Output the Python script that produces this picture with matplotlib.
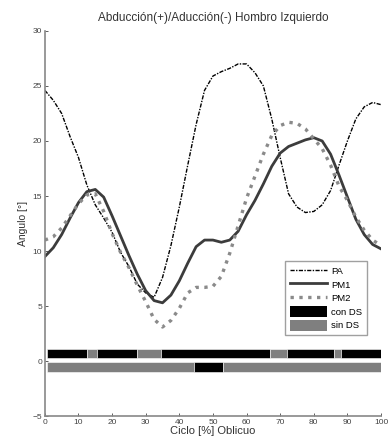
import matplotlib.pyplot as plt
from matplotlib.patches import Patch
from matplotlib.lines import Line2D

plt.rcParams['font.family'] = ['Liberation Sans', 'DejaVu Sans']

ciclo = [i * 2.5 for i in range(41)]

pa = [24.6, 23.7, 22.5, 20.4, 18.5, 16.0, 14.2, 13.0, 11.7, 9.9,
      8.6, 7.0, 6.2, 5.8, 7.6, 10.5, 14.0, 17.8, 21.5, 24.6,
      25.9, 26.3, 26.6, 27.0, 27.0, 26.2, 25.0, 22.0, 18.5, 15.2,
      14.0, 13.5, 13.6, 14.2, 15.5, 17.8, 20.0, 22.0, 23.1, 23.5, 23.3]

pm1 = [9.5, 10.3, 11.5, 13.0, 14.4, 15.4, 15.6, 14.9, 13.2, 11.4,
       9.6, 7.9, 6.4, 5.5, 5.3, 6.0, 7.3, 8.9, 10.4, 11.0,
       11.0, 10.8, 11.0, 11.8, 13.3, 14.6, 16.1, 17.7, 18.9, 19.5,
       19.8, 20.1, 20.3, 20.0, 18.8, 16.9, 14.9, 12.9, 11.5, 10.6, 10.2]

pm2 = [11.0, 11.3, 12.1, 13.2, 14.3, 15.1, 15.2, 13.6, 11.6, 9.9,
       8.5, 6.9, 5.4, 3.8, 3.1, 3.7, 4.8, 6.2, 6.7, 6.7,
       6.8, 7.7, 9.8, 12.3, 14.8, 16.8, 18.8, 20.5, 21.4, 21.7,
       21.6, 21.1, 20.2, 19.3, 17.8, 15.9, 14.6, 13.1, 11.9, 11.0, 10.5]

# franjas de doble soporte (1 = con DS, 0 = sin DS)
ds_bordes_1 = [0.5, 12.5, 15.5, 27.5, 34.5, 67, 72, 86, 88, 100]
ds_estado_1 = [1, 0, 1, 0, 1, 0, 1, 0, 1]
ds_bordes_2 = [0.5, 44.5, 53, 100]
ds_estado_2 = [0, 1, 0]

colores_ds = {1: 'black', 0: '#7f7f7f'}

fig = plt.figure(figsize=(3.9, 4.48), dpi=100)
ax = fig.add_axes([0.115, 0.071, 0.862, 0.86])

ax.plot(ciclo, pa, color='black', linestyle='-.', linewidth=1.0, dashes=(3, 1, 1, 1))
ax.plot(ciclo, pm1, color='#3c3c3c', linewidth=2.0)
ax.plot(ciclo, pm2, color='#8a8a8a', linestyle=':', linewidth=2.4)

for bordes, estados, y0 in [(ds_bordes_1, ds_estado_1, 0.25), (ds_bordes_2, ds_estado_2, -0.95)]:
    for i, est in enumerate(estados):
        ax.barh(y0 + 0.425, bordes[i + 1] - bordes[i], left=bordes[i], height=0.85,
                color=colores_ds[est], edgecolor='white', linewidth=0.4)

ax.set_xlim(0, 100)
ax.set_ylim(-5, 30)
ax.set_xticks(range(0, 101, 10))
ax.set_yticks(range(-5, 31, 5))
ax.tick_params(direction='in', labelsize=6, length=2.5, width=0.6, colors='#444444', pad=2)
ax.spines['top'].set_visible(False)
ax.spines['right'].set_visible(False)
ax.spines['left'].set_color('#888888')
ax.spines['bottom'].set_color('#888888')
ax.spines['left'].set_linewidth(1.2)
ax.spines['bottom'].set_linewidth(1.2)

ax.set_title('Abducción(+)/Aducción(-) Hombro Izquierdo', fontsize=8.5, color='#333333', pad=7)
ax.set_xlabel('Ciclo [%] Oblicuo', fontsize=8, color='#333333', labelpad=0)
ax.set_ylabel('Angulo [°]', fontsize=7.5, color='#333333', labelpad=3)

handles = [
    Line2D([], [], color='black', linestyle='-.', linewidth=1.0, dashes=(3, 1, 1, 1)),
    Line2D([], [], color='#3c3c3c', linewidth=2.0),
    Line2D([], [], color='#8a8a8a', linestyle=':', linewidth=2.4),
    Patch(facecolor='black', edgecolor='none'),
    Patch(facecolor='#7f7f7f', edgecolor='none'),
]
ax.legend(handles, ['PA', 'PM1', 'PM2', 'con DS', 'sin DS'], loc='lower right',
          bbox_to_anchor=(0.958, 0.21), fontsize=6.8, handlelength=4.0,
          handleheight=1.35, labelspacing=0.32, borderpad=0.5, handletextpad=0.4,
          frameon=True, fancybox=False, edgecolor='#888888', borderaxespad=0)

fig.savefig('out.png', dpi=100)
